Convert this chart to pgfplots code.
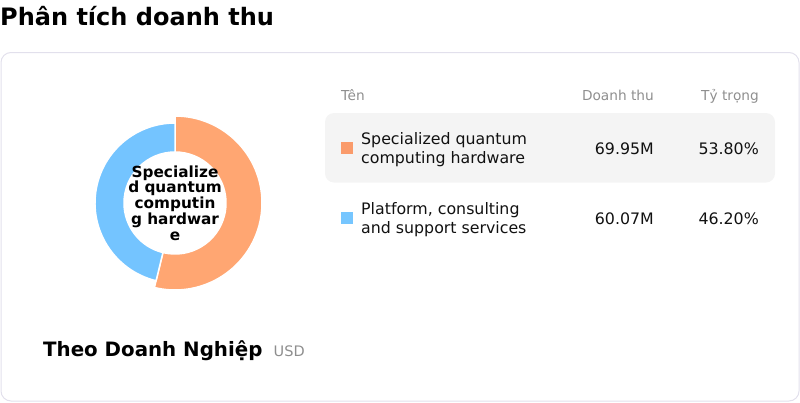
\documentclass[border=0pt]{standalone}
\usepackage{fontspec}
\setmainfont{DejaVu Sans}
\usepackage{pgfplots}
\pgfplotsset{compat=1.18}
\usetikzlibrary{calc}

\definecolor{sliceA}{HTML}{FFA672}
\definecolor{sliceB}{HTML}{74C4FF}
\definecolor{keyA}{HTML}{FA9B6B}
\definecolor{keyB}{HTML}{76C6FF}
\definecolor{cardline}{HTML}{E2E0EC}
\definecolor{rowbg}{HTML}{F4F4F4}
\definecolor{muted}{HTML}{8E8E8E}
\definecolor{ink}{HTML}{111111}

\newcommand\fs[1]{\fontsize{#1}{#1}\selectfont}

\begin{document}
\begin{tikzpicture}
% revenue by segment (million USD)
\pgfmathsetmacro\valA{69.95}
\pgfmathsetmacro\valB{60.07}
\pgfmathsetmacro\angA{90-360*(\valA/(\valA+\valB))}
\pgfmathsetmacro\angB{\angA-360*(\valB/(\valA+\valB))}
\begin{axis}[
  name=ax,
  width=800pt, height=402pt, scale only axis,
  xmin=0, xmax=800, ymin=0, ymax=402, y dir=reverse,
  hide axis, clip=false,
]
% card and highlighted row
\draw[cardline, line width=1pt, rounded corners=10pt]
  (axis cs:1,52.5) rectangle (axis cs:799,401);
\fill[rowbg, rounded corners=9pt] (axis cs:325,113) rectangle (axis cs:775,182.5);

% donut
\coordinate (c) at (axis cs:175,203);
\filldraw[fill=sliceA, draw=white, line width=1.5pt]
  ($(c)+(90:87pt)$) arc[start angle=90, end angle=\angA, radius=87pt]
  -- ($(c)+(\angA:51pt)$) arc[start angle=\angA, end angle=90, radius=51pt] -- cycle;
\filldraw[fill=sliceB, draw=white, line width=1.5pt]
  ($(c)+(\angA:80pt)$) arc[start angle=\angA, end angle=\angB, radius=80pt]
  -- ($(c)+(\angB:51pt)$) arc[start angle=\angB, end angle=\angA, radius=51pt] -- cycle;
\node[align=center, inner sep=0, font=\fontsize{15.3}{15.8}\selectfont\bfseries, text=black]
  at (axis cs:175,203) {Specialize\\d quantum\\computin\\g hardwar\\e};

% titles
\node[anchor=base west, inner sep=0, font=\fs{24}\bfseries, text=black]
  at (axis cs:0,25) {Phân tích doanh thu};
\node[anchor=base west, inner sep=0, font=\fs{19.8}\bfseries, text=black]
  at (axis cs:43,356) {Theo Doanh Nghiệp};
\node[anchor=base west, inner sep=0, font=\fs{14.5}, text=muted]
  at (axis cs:273.5,356) {USD};

% table header
\node[anchor=base west, inner sep=0, font=\fs{13.7}, text=muted] at (axis cs:341,100) {Tên};
\node[anchor=base east, inner sep=0, font=\fs{13.7}, text=muted] at (axis cs:654,100) {Doanh thu};
\node[anchor=base east, inner sep=0, font=\fs{13.7}, text=muted] at (axis cs:759,100) {Tỷ trọng};

% row 1
\fill[keyA] (axis cs:341,142) rectangle (axis cs:353,154);
\node[anchor=base west, inner sep=0, font=\fs{15.8}, text=ink] at (axis cs:361,144.3) {Specialized quantum};
\node[anchor=base west, inner sep=0, font=\fs{15.8}, text=ink] at (axis cs:361,163.3) {computing hardware};
\node[anchor=base east, inner sep=0, font=\fs{15.8}, text=ink] at (axis cs:654,154) {69.95M};
\node[anchor=base east, inner sep=0, font=\fs{15.8}, text=ink] at (axis cs:759,154) {53.80\%};

% row 2
\fill[keyB] (axis cs:341,212) rectangle (axis cs:353,224);
\node[anchor=base west, inner sep=0, font=\fs{15.8}, text=ink] at (axis cs:361,214) {Platform, consulting};
\node[anchor=base west, inner sep=0, font=\fs{15.8}, text=ink] at (axis cs:361,233) {and support services};
\node[anchor=base east, inner sep=0, font=\fs{15.8}, text=ink] at (axis cs:654,224) {60.07M};
\node[anchor=base east, inner sep=0, font=\fs{15.8}, text=ink] at (axis cs:759,224) {46.20\%};
\end{axis}
\pgfresetboundingbox
\path[use as bounding box] (ax.south west) rectangle (ax.north east);
\end{tikzpicture}
\end{document}
